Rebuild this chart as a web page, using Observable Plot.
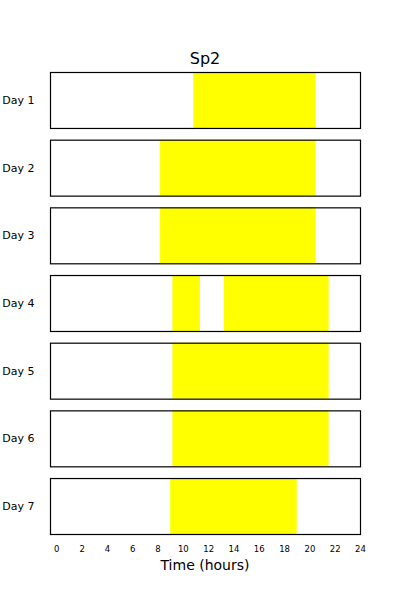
<!DOCTYPE html>
<html>
<head>
<meta charset="utf-8">
<script src="https://cdn.jsdelivr.net/npm/d3@7"></script>
<script src="https://cdn.jsdelivr.net/npm/@observablehq/plot@0.6"></script>
<style>
  html, body { margin: 0; padding: 0; background: #fff; }
  #wrap { position: relative; width: 400px; height: 600px; font-family: "DejaVu Sans", sans-serif; }
  #title { position: absolute; left: 50px; width: 310px; top: 51px; text-align: center; font-size: 16px; line-height: 16px; color: #000; }
  #xlabel { position: absolute; left: 50px; width: 310px; top: 557px; text-align: center; font-size: 14px; line-height: 16px; color: #000; }
  #chart { position: absolute; left: 0; top: 70px; }
</style>
</head>
<body>
<div id="wrap">
  <div id="title">Sp2</div>
  <div id="chart"></div>
  <div id="xlabel">Time (hours)</div>
</div>
<script>
const days = ["Day 1", "Day 2", "Day 3", "Day 4", "Day 5", "Day 6", "Day 7"];
const intervalDay   = ["Day 1", "Day 2", "Day 3", "Day 4", "Day 4", "Day 5", "Day 6", "Day 7"];
const intervalStart = [10.83, 8.2, 8.2, 9.17, 13.25, 9.17, 9.17, 9.0];
const intervalEnd   = [20.5, 20.5, 20.5, 11.35, 21.52, 21.52, 21.52, 19.0];
const xTicks = [0, 2, 4, 6, 8, 10, 12, 14, 16, 18, 20, 22, 24];

const data = intervalDay.map((d, i) => ({day: d, start: intervalStart[i], end: intervalEnd[i]}));

const plot = Plot.plot({
  width: 400,
  height: 486,
  marginTop: 2,
  marginBottom: 22,
  marginLeft: 50,
  marginRight: 40,
  style: {fontFamily: "DejaVu Sans, sans-serif", color: "#000", background: "#fff"},
  x: {domain: [-0.5, 24]},
  fy: {domain: days, paddingInner: 0.173, paddingOuter: 0, round: false},
  marks: [
    Plot.rect(data, {x1: "start", x2: "end", fy: "day", fill: "#ffff00"}),
    Plot.frame({stroke: "black", strokeWidth: 1.2}),
    Plot.axisX({ticks: xTicks, tickSize: 0, tickPadding: 11, fontSize: 8.5, label: null, anchor: "bottom", facetAnchor: "bottom"}),
    Plot.axisFy({tickSize: 0, tickPadding: 16, fontSize: 11, label: null, anchor: "left"})
  ]
});
document.getElementById("chart").appendChild(plot);
</script>
</body>
</html>
